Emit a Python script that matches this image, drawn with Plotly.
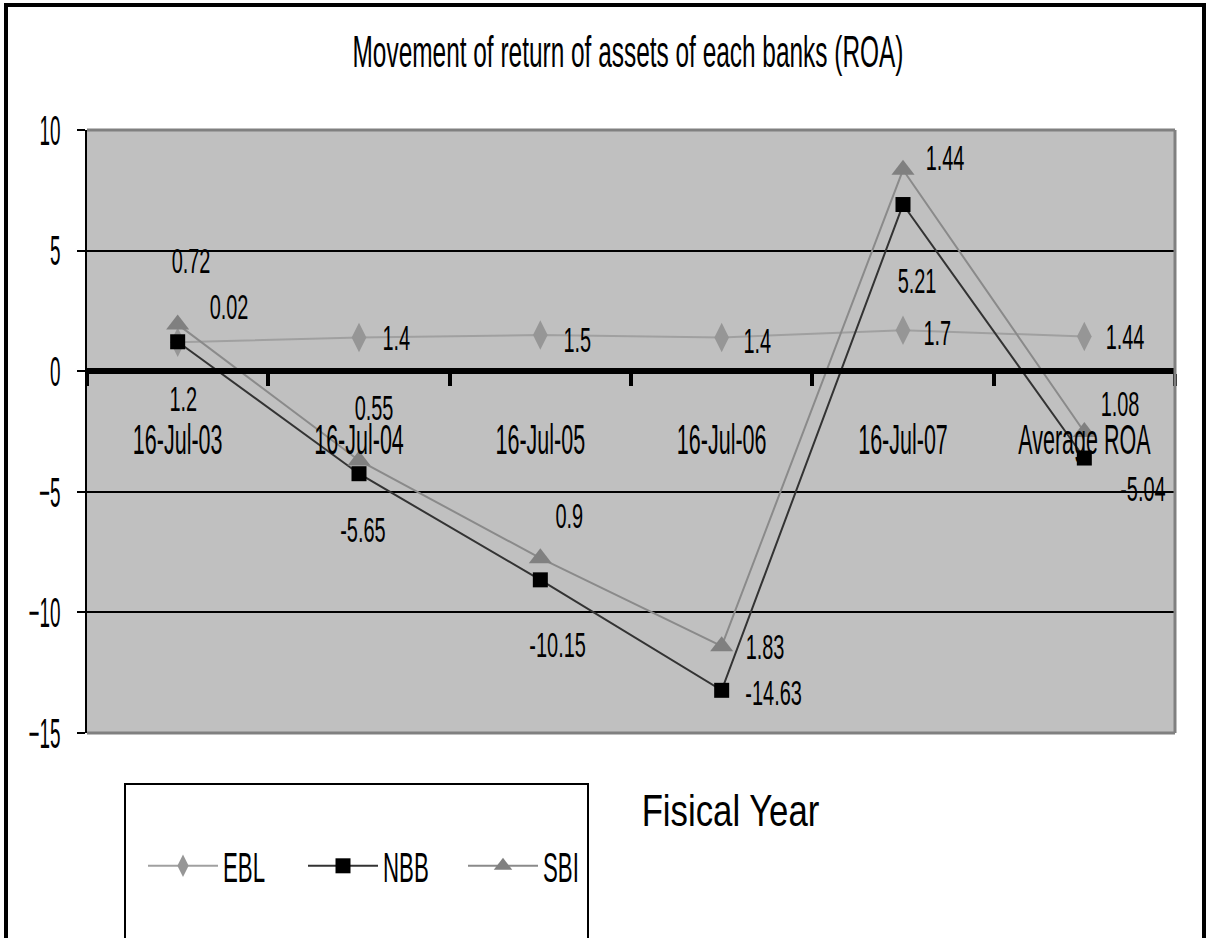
import json
import numpy as np
import plotly.graph_objects as go

# ---------------- data ----------------
categories = ["16-Jul-03", "16-Jul-04", "16-Jul-05", "16-Jul-06", "16-Jul-07", "Average ROA"]
ebl = [1.2, 1.4, 1.5, 1.4, 1.7, 1.44]
nbb = [0.02, -5.65, -10.15, -14.63, 5.21, -5.04]
sbi = [0.72, 0.55, 0.9, 1.83, 1.44, 1.08]
y_ticks = [-15, -10, -5, 0, 5, 10]
series_names = ["EBL", "NBB", "SBI"]

# ---------------- layout helpers (pixels) ----------------
W, H = 1213, 938
L, R, T, B = 87, 1175, 130, 733  # plot area box in pixels


def px(x):
    return (x - L) / (R - L)


def py(y):
    return (B - y) / (B - T)


FONT = "Liberation Sans, Arial, sans-serif"

# label offsets (dx right, dy down) in pixels relative to each plotted point
label_offsets = {
    "EBL": [(6, 56), (37, 0), (37, 4), (36, 3), (34, 2), (41, 0)],
    "NBB": [(51, -35), (4, 56), (17, 65), (52, 2), (14, 76), (59, 30)],
    "SBI": [(13, -64), (15, -53), (29, -43), (43, 0), (42, -12), (36, -28)],
}

styles = {
    "EBL": dict(line=dict(color="#a0a0a0", width=2),
                marker=dict(symbol="diamond-tall", size=21, color="#969696")),
    "NBB": dict(line=dict(color="#333333", width=2),
                marker=dict(symbol="square", size=15, color="#000000")),
    "SBI": dict(line=dict(color="#8a8a8a", width=2),
                marker=dict(symbol="triangle-up", size=20, color="#808080")),
}

values = {"EBL": ebl, "NBB": nbb, "SBI": sbi}

fig = go.Figure()
for name in series_names:
    fig.add_trace(go.Scatter(
        x=categories, y=values[name], name=name,
        stackgroup="roa", fill="none", mode="lines+markers",
        line=styles[name]["line"], marker=styles[name]["marker"],
        cliponaxis=False,
    ))

# stacked positions for the data labels (same stacking as the traces)
stack = np.cumsum(np.array([ebl, nbb, sbi]), axis=0)
annotations = []
for si, name in enumerate(series_names):
    for i, cat in enumerate(categories):
        dx, dy = label_offsets[name][i]
        annotations.append(dict(
            x=cat, y=float(stack[si][i]), xref="x", yref="y",
            text=str(values[name][i]), showarrow=False,
            xanchor="center", yanchor="middle", xshift=dx, yshift=-dy,
            font=dict(family=FONT, size=35, color="black"),
        ))

annotations.append(dict(
    x=px(730), y=py(810), xref="paper", yref="paper", text="Fisical Year",
    showarrow=False, xanchor="center", yanchor="middle",
    font=dict(family=FONT, size=44, color="black"),
))

shapes = [
    # outer chart frame
    dict(type="rect", xref="paper", yref="paper", x0=px(6), x1=px(1204),
         y0=py(975), y1=py(5), line=dict(color="black", width=4),
         fillcolor="rgba(0,0,0,0)", layer="above"),
    # legend frame
    dict(type="rect", xref="paper", yref="paper", x0=px(125), x1=px(588),
         y0=py(975), y1=py(784), line=dict(color="black", width=2),
         fillcolor="rgba(0,0,0,0)", layer="above"),
    # plot area grey border (top, right, bottom)
    dict(type="line", xref="paper", yref="paper", x0=0, x1=1, y0=1, y1=1,
         line=dict(color="#808080", width=3), layer="above"),
    dict(type="line", xref="paper", yref="paper", x0=1, x1=1, y0=0, y1=1,
         line=dict(color="#808080", width=3), layer="above"),
    dict(type="line", xref="paper", yref="paper", x0=0, x1=1, y0=0, y1=0,
         line=dict(color="#808080", width=3), layer="above"),
]

fig.update_layout(
    width=W, height=H, autosize=False,
    margin=dict(l=L, r=W - R, t=T, b=H - B, pad=0, autoexpand=False),
    paper_bgcolor="white", plot_bgcolor="#c0c0c0",
    font=dict(family=FONT, color="black"),
    title=dict(text="Movement of return of assets of each banks (ROA)",
               x=px(628), xref="paper", y=1 - 52 / H, yref="container",
               xanchor="center", yanchor="middle", automargin=False,
               font=dict(family=FONT, size=44, color="black")),
    showlegend=True,
    legend=dict(orientation="h", x=px(143), y=py(866), xanchor="left", yanchor="middle",
                bgcolor="rgba(0,0,0,0)", borderwidth=0,
                font=dict(family=FONT, size=42, color="black"),
                itemwidth=70, entrywidth=75, entrywidthmode="pixels",
                itemsizing="trace", itemclick=False, itemdoubleclick=False),
    xaxis=dict(type="category", categoryorder="array", categoryarray=categories,
               range=[-0.5, len(categories) - 0.5], automargin=False, tickangle=0,
               anchor="free", position=(0 - y_ticks[0]) / (y_ticks[-1] - y_ticks[0]),
               showline=True, linewidth=6, linecolor="black",
               ticks="outside", tickson="boundaries", ticklen=12, tickwidth=4,
               tickcolor="black", showgrid=False, zeroline=False,
               tickfont=dict(family=FONT, size=43, color="black"),
               ticklabelstandoff=28, fixedrange=True),
    yaxis=dict(range=[y_ticks[0], y_ticks[-1]], tickvals=y_ticks, automargin=False,
               showgrid=True, gridcolor="black", gridwidth=1.5,
               zeroline=False, showline=True, linecolor="black", linewidth=2,
               ticks="outside", ticklen=8, tickwidth=2, tickcolor="black",
               tickfont=dict(family=FONT, size=42, color="black"),
               ticklabelstandoff=8, fixedrange=True),
    annotations=annotations,
    shapes=shapes,
)

# horizontal condensing of the (narrow, Excel-like) text
SCALE = {"gtitle": 0.555, "legendtext": 0.53, "xtick": 0.5, "ytick": 0.45,
         "annotation": 0.57, "Fisical Year": 0.79}
js = """
document.documentElement.style.margin = '0';
document.body.style.margin = '0';
document.body.style.padding = '0';
var gd = document.getElementById('{plot_id}');
var S = __S__;
var texts = gd.querySelectorAll('svg text');
for (var i = 0; i < texts.length; i++) {
  var t = texts[i];
  var s = null;
  var txt = t.textContent;
  if (Object.prototype.hasOwnProperty.call(S, txt)) s = S[txt];
  else if (t.classList.contains('gtitle')) s = S.gtitle;
  else if (t.classList.contains('legendtext')) s = S.legendtext;
  else if (t.classList.contains('annotation-text')) s = S.annotation;
  else if (t.closest('.xtick')) s = S.xtick;
  else if (t.closest('.ytick')) s = S.ytick;
  if (s === null) continue;
  var bb = t.getBBox();
  var a = t.getAttribute('text-anchor') || 'start';
  var ax = a === 'middle' ? bb.x + bb.width / 2 : (a === 'end' ? bb.x + bb.width : bb.x);
  var tr = t.getAttribute('transform') || '';
  t.setAttribute('transform', tr + ' translate(' + ax + ',0) scale(' + s + ',1) translate(' + (-ax) + ',0)');
}
""".replace("__S__", json.dumps(SCALE))

fig.write_html("out.html", config={"displayModeBar": False}, post_script=js)
